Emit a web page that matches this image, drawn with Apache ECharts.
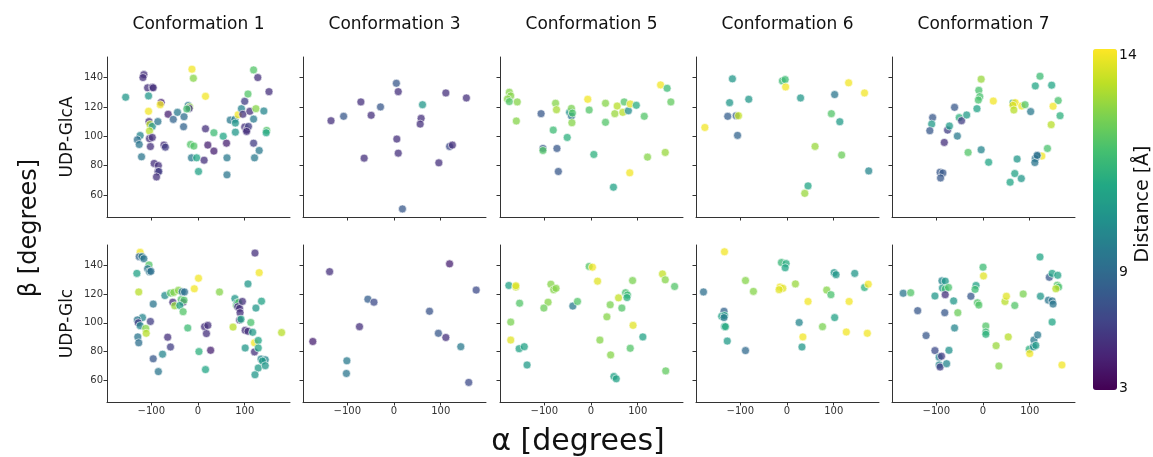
<!DOCTYPE html>
<html>
<head>
<meta charset="utf-8">
<script src="https://cdn.jsdelivr.net/npm/echarts@6/dist/echarts.min.js"></script>
<style>
html, body { margin: 0; padding: 0; background: #fff; }
#chart { width: 1153px; height: 457px; }
</style>
</head>
<body>
<div id="chart"></div>
<script>
// each point: [alpha, beta, distance]
var glcaConf1 = [[-155,126.6,8.8],[-116,142,4.5],[-118,140,4.5],[-108,133,4.5],[-98,133.4,4.5],[-96,133,4.5],[-106,127.5,8.8],[-79,123,4],[-81,121.5,13.8],[-106,117,13.8],[-105,110,4.5],[-103,108,12.8],[-98,106.7,8.5],[-104,103.6,12.8],[-124,100.5,8],[-130,97.6,7],[-126,94.4,7.3],[-121,86,7.3],[-104,98.4,4.5],[-98,99.2,4.5],[-102,93,4.5],[-94,81.5,4.5],[-85,80,4.5],[-86,76,4.5],[-84,76,5],[-89,72.3,4.5],[-86,110,7.3],[-73,94,4.5],[-70,92.6,5],[-64,115,4],[-53,111.5,6.5],[-44,116.3,7.5],[-30,113.3,7],[-31,106.5,6.5],[-21,121,7.5],[-18,120,12.3],[-19,119,4.5],[-24,118.6,10.7],[-13,145.7,13.8],[-10,139.5,12],[-16,94.4,11],[-9,93.3,11],[-14,85.3,7.5],[-3,85.3,9.5],[1,76,9.3],[16,127.2,13.8],[16,105.1,4.5],[21,94,4],[13,83.7,4.5],[34,89.9,4],[34,102.4,10.5],[54,100,9.5],[61,95.3,4],[62,85.3,7.5],[62,73.7,7.3],[69,111,7.5],[79,111.5,7.5],[80,109,8.8],[80,102.8,8.8],[86,114.7,13.8],[93,118.8,7.8],[96,115,4.5],[100,106.3,4.5],[104,104.4,4.5],[108,106.7,5],[104,103.3,4.5],[100,123.8,5],[107,128.8,11],[111,117,4.5],[119,145.2,11],[128,140,4.5],[124,118.8,12],[119,111.7,7.5],[119,95.3,5],[121,85.3,7.5],[131,90.3,7.5],[141,117.2,8],[147,104,11],[146,102.4,9.5],[152,130.4,4.5]];
var glcaConf3 = [[-135,110.6,4.5],[-108,113.6,6],[-71,123.4,4.5],[-49,114.3,4.5],[-29,120,6],[-64,85.1,4.5],[5,136.1,6],[9,130.4,4.5],[6,98.1,4.5],[9,88.5,4.5],[18,50.5,6],[61,121.5,8.8],[58,112.2,4.5],[56,108.3,4.5],[111,129.5,4.5],[155,126.1,4.5],[119,93.1,5.5],[125,94,4.5],[96,81.9,4.5]];
var glcaConf5 = [[-175,130,12],[-172,127.5,12],[-179,125.4,12],[-175,123.6,11],[-158,123.4,12],[-160,110.4,12],[-107,115.4,6],[-103,91.7,6],[-103,90.3,11],[-73,91.7,6],[-70,76,6],[-81,104.2,10.5],[-76,122.5,12],[-74,118.1,12.5],[-51,99.2,10],[-46,116.3,8.5],[-42,113.8,7.3],[-42,119,11.8],[-40,115.8,10.8],[-41,109.2,12],[-7,125.2,13.8],[-4,117.9,11],[6,87.6,10],[31,122.5,12],[31,109.5,11],[48,65.3,9.3],[51,115.4,12.3],[56,120.6,12.8],[68,116.3,12.8],[71,123.4,11],[80,117.4,8.3],[84,122,13.5],[83,75.1,13.8],[97,121.1,9.8],[114,113.6,11],[121,85.8,12],[149,135,13.8],[163,132.7,10.5],[171,123.4,11.3],[159,89,12.3]];
var glcaConf6 = [[-176,106,13.8],[-117,139.1,8.8],[-123,122.9,8.8],[-127,113.6,6.3],[-109,114,6.3],[-104,114,13],[-106,100.6,6.5],[-82,125.2,8.8],[-10,137.7,10.5],[-4,138.6,10.5],[-3,133.6,13.8],[29,126.1,8.8],[60,93.1,12.3],[45,66.2,9.5],[38,61.1,12.3],[102,128.4,7.3],[95,115.4,11],[113,109.9,9],[132,136.4,13.8],[117,87.2,11.5],[166,129.5,13.8],[175,76.4,8]];
var glcaConf7 = [[-108,112.7,6],[-110,108.3,9],[-114,103.8,6],[-61,119.7,6],[-76,104.2,5],[-72,107,9],[-51,112.7,10],[-46,110.6,5],[-35,114.5,9],[-55,100.1,7.5],[-83,95.8,4.5],[-32,89,11],[-92,75.5,6],[-86,75,6],[-91,71.6,6],[-4,138.9,12.3],[-9,131.3,10.8],[-7,127,10.8],[-10,124.7,10.8],[-13,118.8,9.3],[22,124,13.8],[-4,90.8,8],[12,82.3,9.5],[64,122.7,9],[69,122.9,13.8],[64,121.1,13.5],[66,117.9,12.8],[83,120.6,13.8],[90,121.5,11],[102,116.8,7.5],[73,84.5,8.8],[68,74.6,9.3],[58,68.7,9.5],[82,71.2,8.8],[112,134.3,9.5],[122,140.9,10.5],[147,134.8,9.5],[161,124.3,10.8],[150,120.4,13.8],[146,107.9,12.8],[165,114,10],[138,91.7,10.8],[126,86.5,13.8],[116,86.5,7.5],[112,84.8,7.3],[111,82.1,7.3],[116,87,7]];
var glcConf1 = [[-124,148.9,13.8],[-126,145.9,6.5],[-120,145.9,7.3],[-116,144.5,7.3],[-105,140.2,11],[-108,137.5,7.3],[-104,135.5,7.3],[-101,135.7,7],[-131,134.3,9.3],[-127,121.4,12.8],[-96,113,7.3],[-119,103.6,8],[-130,102,7.3],[-128,100,5],[-124,98,8],[-102,100.9,5],[-112,96.1,12],[-111,92.7,12.8],[-129,90.2,7.3],[-127,86.1,7],[-96,75,6],[-85,66.1,7.3],[-76,78.2,8],[-65,90,4.5],[-59,83.2,5],[-71,118.9,8.3],[-59,120.7,11],[-52,121.1,12],[-42,122.5,12],[-54,114.3,4.5],[-50,111.8,12.3],[-36,116.1,11],[-32,114.3,4.5],[-30,115.7,11],[-34,121.6,7.3],[-29,121.4,7],[-39,112,9.3],[-32,107.7,11],[-22,96.4,10.5],[-8,123.6,13.8],[1,130.9,13.8],[2,80,10],[16,67.5,9.5],[14,97.3,4.5],[21,98.2,4.5],[18,92.5,4.5],[27,80.9,4],[46,121.4,12],[75,97,12.8],[79,116.8,8.8],[82,112.3,11],[84,113.9,9],[87,114.1,11],[85,111.1,4.5],[89,110,4.5],[90,107,4.5],[95,114.8,4.5],[89,102,4.5],[92,102.5,9.3],[101,94.8,4.5],[107,94.1,4.5],[113,100.2,10.8],[117,93.4,9],[101,82.5,8.8],[107,127,8.8],[122,148.4,4.5],[131,134.8,13.8],[124,110.2,8.8],[136,115,9.3],[121,86.1,13.8],[121,79.8,4.5],[129,87.7,9.5],[129,82.5,9.3],[135,74.8,8],[144,74.3,8],[138,73.4,9],[129,68.6,9],[122,63.9,8.8],[144,70.2,8.8],[179,93.2,12.8]];
var glcConf3 = [[-174,87,4],[-138,135.5,4.5],[-101,73.6,7.5],[-102,64.8,7.3],[-74,97.3,4.5],[-56,116.4,6.3],[-43,114.3,5.5],[76,108,5.8],[95,92.7,6],[111,89.8,4.5],[143,83.4,7.5],[119,140.9,4],[176,122.7,5.5],[160,58.6,5.5]];
var glcConf5 = [[-176,125.9,9.3],[-161,124.8,12.8],[-161,125.7,13.5],[-153,113.6,11],[-172,100.5,11.8],[-172,88,13.5],[-154,82,9.3],[-143,83.4,9.3],[-137,70.7,9],[-86,126.8,12],[-80,123,12],[-75,123.9,12],[-92,114.3,12],[-101,110.2,11.5],[-39,111.6,7.5],[-29,114.8,11],[-4,139.1,11],[3,138.6,13.8],[14,128.9,13.5],[41,112.5,11.8],[34,104.1,12],[19,88,12],[42,77.7,12],[49,62.7,9.3],[54,61.1,9.3],[59,117.3,13],[66,110.2,11],[74,120.9,10.8],[78,119.3,10.5],[77,117.5,10],[89,129.3,11.8],[90,98.2,13.5],[84,82.3,11],[111,90.2,9.3],[153,133.9,13],[159,129.8,12],[179,125.2,11],[160,66.6,11.3]];
var glcConf6 = [[-134,149.3,13.8],[-179,121.4,7],[-135,108,6.5],[-140,104.5,9.3],[-134,105,9.3],[-135,103.6,7.5],[-134,97.5,9],[-132,97.3,9.8],[-128,87.3,9],[-89,80.7,6.8],[-89,129.3,12],[-72,121.8,12],[-12,141.8,10.3],[-2,141.1,9.8],[-4,138.2,9.5],[-15,124.8,13.8],[-9,123.9,13.5],[-17,123,13.5],[18,127,12.3],[26,100.2,8],[34,90.2,13.8],[32,83.2,8.8],[45,114.8,13.8],[76,97.3,11.8],[85,122.7,12],[94,119.5,10.8],[101,134.8,8.8],[105,133.4,8.8],[102,103.6,9.3],[127,93.6,13.8],[133,114.8,13.8],[145,134.3,8.8],[166,124.5,10],[174,126.8,13.8],[172,92.7,13.8]];
var glcConf7 = [[-171,120.5,7.3],[-155,120.9,11],[-140,108.4,6],[-122,91.1,6],[-103,118.6,8.8],[-88,129.1,8],[-81,128.9,8.8],[-87,124.1,8.8],[-81,123.4,10.5],[-74,124.5,10.8],[-81,119.5,4.5],[-82,107,6],[-63,115.2,8.8],[-54,107,11.5],[-61,96.4,8],[-103,80.7,5.5],[-94,76.1,8],[-89,76.8,5],[-94,70.7,8],[-92,69.3,5],[-73,80.9,8.5],[-78,71.6,8],[-26,118.4,6],[-15,125.9,9.3],[-17,123.2,10.5],[-12,113.9,11],[-9,112.3,11],[0,138.6,10.5],[1,132.5,13.5],[6,97.7,11],[6,93.6,10.5],[6,92,10],[28,84.1,12.3],[34,70,12],[47,114.8,12.8],[50,118.4,13.5],[54,90.2,12.8],[68,112,11],[86,120,11.8],[99,81.6,10],[100,78.6,13.8],[109,88,7.5],[117,91.6,7.5],[108,83.4,8],[113,84.3,9],[122,145.7,9.5],[123,118.4,8.8],[142,131.6,6],[148,134.3,9.3],[160,133,9.3],[159,126.1,11],[162,124.8,10.8],[156,123.6,12.8],[140,115.7,7.3],[148,115.2,7.3],[150,113,7.3],[148,100.5,9.5],[169,70.7,13.8]];

var conformations = ['Conformation 1', 'Conformation 3', 'Conformation 5', 'Conformation 6', 'Conformation 7'];
var ligands = ['UDP-GlcA', 'UDP-Glc'];
var panels = [
  [glcaConf1, glcaConf3, glcaConf5, glcaConf6, glcaConf7],
  [glcConf1, glcConf3, glcConf5, glcConf6, glcConf7]
];
var xTicks = [-100, 0, 100];
var yTicks = [60, 80, 100, 120, 140];
var colorTicks = [14, 9, 3];
var viridis = ['#440154', '#482475', '#414487', '#355f8d', '#2a788e', '#21918c', '#22a884', '#44bf70', '#7ad151', '#bddf26', '#fde725'];

var font = 'DejaVu Sans';
var colLeft = [107, 303, 500, 696, 892];
var rowTop = [57, 245];
var rowHeight = [160, 157];
var gridW = 183;

var grids = [], xAxes = [], yAxes = [], series = [], graphics = [];
for (var r = 0; r < 2; r++) {
  for (var c = 0; c < 5; c++) {
    var idx = r * 5 + c;
    grids.push({ left: colLeft[c], top: rowTop[r], width: gridW, height: rowHeight[r] });
    xAxes.push({
      gridIndex: idx, type: 'value', min: -195, max: 197,
      axisLine: { onZero: false, lineStyle: { color: '#333', width: 1 } },
      axisTick: { show: true, length: 3.5, customValues: xTicks, lineStyle: { color: '#333' } },
      axisLabel: {
        show: r === 1, customValues: xTicks, margin: 4, fontSize: 10, color: '#333', fontFamily: font,
        formatter: function (v) { return String(v).replace('-', '\u2212'); }
      },
      splitLine: { show: false }
    });
    yAxes.push({
      gridIndex: idx, type: 'value', min: 45, max: 154,
      axisLine: { show: true, onZero: false, lineStyle: { color: '#333', width: 1 } },
      axisTick: { show: true, length: 3.5, customValues: yTicks, lineStyle: { color: '#333' } },
      axisLabel: { show: c === 0, customValues: yTicks, margin: 4, fontSize: 10, color: '#333', fontFamily: font },
      splitLine: { show: false }
    });
    series.push({
      type: 'scatter', xAxisIndex: idx, yAxisIndex: idx,
      symbolSize: 8,
      itemStyle: { opacity: 0.75, borderColor: '#fff', borderWidth: 0.8 },
      data: panels[r][c]
    });
  }
}

for (var c = 0; c < 5; c++) {
  graphics.push({
    type: 'text', x: colLeft[c] + gridW / 2, y: 25,
    style: { text: conformations[c], font: '17px "' + font + '"', fill: '#111', align: 'center', verticalAlign: 'middle' }
  });
}
for (var r = 0; r < 2; r++) {
  graphics.push({
    type: 'text', x: 68, y: rowTop[r] + rowHeight[r] / 2, rotation: Math.PI / 2,
    style: { text: ligands[r], font: '17px "' + font + '"', fill: '#111', align: 'center', verticalAlign: 'middle' }
  });
}
graphics.push({
  type: 'text', x: 30, y: 228, rotation: Math.PI / 2,
  style: { text: '\u03b2 [degrees]', font: '24px "' + font + '"', fill: '#111', align: 'center', verticalAlign: 'middle' }
});
graphics.push({
  type: 'text', x: 578, y: 442,
  style: { text: '\u03b1 [degrees]', font: '30px "' + font + '"', fill: '#111', align: 'center', verticalAlign: 'middle' }
});
graphics.push({
  type: 'text', x: 1143, y: 204, rotation: Math.PI / 2,
  style: { text: 'Distance [\u00c5]', font: '19px "' + font + '"', fill: '#111', align: 'center', verticalAlign: 'middle' }
});
var tickY = [55, 272, 388];
for (var i = 0; i < colorTicks.length; i++) {
  graphics.push({
    type: 'text', x: 1119, y: tickY[i],
    style: { text: String(colorTicks[i]), font: '14px "' + font + '"', fill: '#111', align: 'left', verticalAlign: 'middle' }
  });
}

var chart = echarts.init(document.getElementById('chart'));
chart.setOption({
  animation: false,
  backgroundColor: '#fff',
  grid: grids,
  xAxis: xAxes,
  yAxis: yAxes,
  visualMap: {
    type: 'continuous', min: 3, max: 14, dimension: 2,
    seriesIndex: [0, 1, 2, 3, 4, 5, 6, 7, 8, 9],
    calculable: false, hoverLink: false,
    left: 1078, top: 34, itemWidth: 24, itemHeight: 341,
    inRange: { color: viridis }
  },
  graphic: graphics,
  series: series
});
</script>
</body>
</html>
